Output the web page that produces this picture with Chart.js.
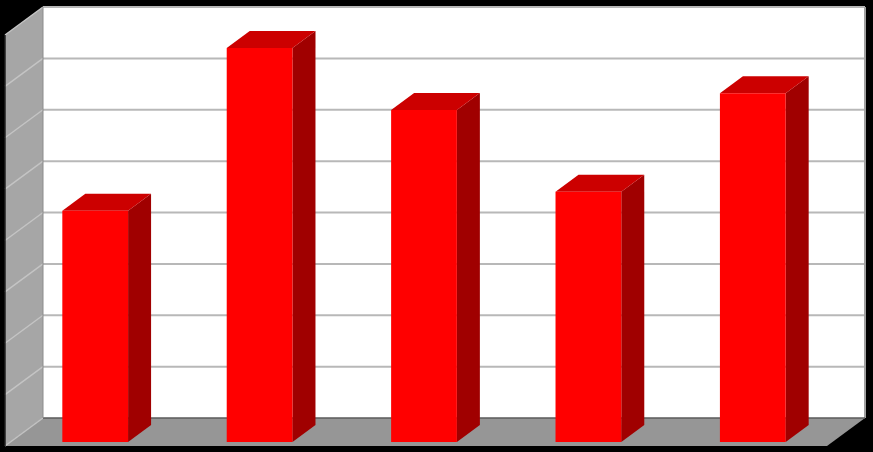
<!DOCTYPE html>
<html>
<head>
<meta charset="utf-8">
<script src="https://cdn.jsdelivr.net/npm/chart.js@4"></script>
<style>
  html, body { margin: 0; padding: 0; background: #000; overflow: hidden; }
  #wrap { width: 873px; height: 452px; }
</style>
</head>
<body>
<div id="wrap"><canvas id="c" width="873" height="452"></canvas></div>
<script>
// ---- data ----
const categories = ['1', '2', '3', '4', '5'];
const values = [4.5, 7.67, 6.46, 4.87, 6.79];
const gridValues = [0, 1, 2, 3, 4, 5, 6, 7, 8];

// ---- styling ----
const WALL_DX = -38, WALL_DY = 28;   // oblique depth of the walls
const BAR_SHIFT_X = -30, BAR_SHIFT_Y = 24; // bars sit in front of the back wall
const BAR_DX = 23, BAR_DY = -17;     // bar depth

const threeD = {
  id: 'threeD',
  beforeDraw(chart) {
    const ctx = chart.ctx;
    const ca = chart.chartArea;
    const L = ca.left, T = ca.top, R = ca.right, B = ca.bottom;
    ctx.save();
    ctx.fillStyle = '#000';
    ctx.fillRect(0, 0, chart.width, chart.height);

    // left wall
    ctx.fillStyle = '#a6a6a6';
    ctx.beginPath();
    ctx.moveTo(L, T); ctx.lineTo(L + WALL_DX, T + WALL_DY);
    ctx.lineTo(L + WALL_DX, B + WALL_DY); ctx.lineTo(L, B);
    ctx.closePath(); ctx.fill();

    // floor
    ctx.fillStyle = '#969696';
    ctx.beginPath();
    ctx.moveTo(L, B); ctx.lineTo(R, B);
    ctx.lineTo(R + WALL_DX, B + WALL_DY); ctx.lineTo(L + WALL_DX, B + WALL_DY);
    ctx.closePath(); ctx.fill();

    // back wall
    ctx.fillStyle = '#ffffff';
    ctx.fillRect(L, T, R - L, B - T);

    // gridlines
    const ys = chart.scales.y;
    gridValues.forEach(v => {
      const y = ys.getPixelForValue(v);
      if (v !== 0) {
        ctx.strokeStyle = '#b8b8b8';
        ctx.lineWidth = 2;
        ctx.beginPath(); ctx.moveTo(L, y); ctx.lineTo(R, y); ctx.stroke();
      }
      ctx.strokeStyle = '#c4c4c4';
      ctx.lineWidth = 1.5;
      ctx.beginPath(); ctx.moveTo(L, y); ctx.lineTo(L + WALL_DX, y + WALL_DY); ctx.stroke();
    });

    // back wall right edge
    ctx.strokeStyle = '#a0a0a0';
    ctx.lineWidth = 2;
    ctx.beginPath(); ctx.moveTo(R, T); ctx.lineTo(R, B); ctx.stroke();
    // floor back edge
    ctx.strokeStyle = '#5a5a5a';
    ctx.lineWidth = 1.5;
    ctx.beginPath(); ctx.moveTo(L, B); ctx.lineTo(R, B); ctx.stroke();
    // wall/floor vertical joint
    ctx.strokeStyle = '#8c8c8c';
    ctx.lineWidth = 1;
    ctx.beginPath(); ctx.moveTo(L, T); ctx.lineTo(L, B); ctx.stroke();
    // left outer edge
    ctx.strokeStyle = '#202020';
    ctx.lineWidth = 1.5;
    ctx.beginPath(); ctx.moveTo(L + WALL_DX, T + WALL_DY); ctx.lineTo(L + WALL_DX, B + WALL_DY); ctx.stroke();
    ctx.restore();
  },
  beforeDatasetsDraw(chart) {
    const ctx = chart.ctx;
    ctx.save();
    ctx.translate(BAR_SHIFT_X, BAR_SHIFT_Y);
    const meta = chart.getDatasetMeta(0);
    meta.data.forEach(bar => {
      const p = bar.getProps(['x', 'y', 'base', 'width'], true);
      const l = p.x - p.width / 2, r = p.x + p.width / 2;
      // side face
      ctx.fillStyle = '#a00000';
      ctx.beginPath();
      ctx.moveTo(r, p.y); ctx.lineTo(r + BAR_DX, p.y + BAR_DY);
      ctx.lineTo(r + BAR_DX, p.base + BAR_DY); ctx.lineTo(r, p.base);
      ctx.closePath(); ctx.fill();
      // top face
      ctx.fillStyle = '#cc0000';
      ctx.beginPath();
      ctx.moveTo(l, p.y); ctx.lineTo(r, p.y);
      ctx.lineTo(r + BAR_DX, p.y + BAR_DY); ctx.lineTo(l + BAR_DX, p.y + BAR_DY);
      ctx.closePath(); ctx.fill();
    });
  },
  afterDatasetsDraw(chart) {
    chart.ctx.restore();
  }
};

new Chart(document.getElementById('c'), {
  type: 'bar',
  data: {
    labels: categories,
    datasets: [{
      data: values,
      backgroundColor: '#ff0000',
      borderWidth: 0,
      categoryPercentage: 1,
      barPercentage: 0.4,
      clip: false
    }]
  },
  options: {
    responsive: false,
    animation: false,
    devicePixelRatio: 1,
    layout: { padding: { left: 43, top: 7, right: 8, bottom: 34 } },
    plugins: { legend: { display: false }, tooltip: { enabled: false } },
    scales: {
      x: { display: false },
      y: { display: false, min: 0, max: 8, ticks: { stepSize: 1 } }
    }
  },
  plugins: [threeD]
});
</script>
</body>
</html>
